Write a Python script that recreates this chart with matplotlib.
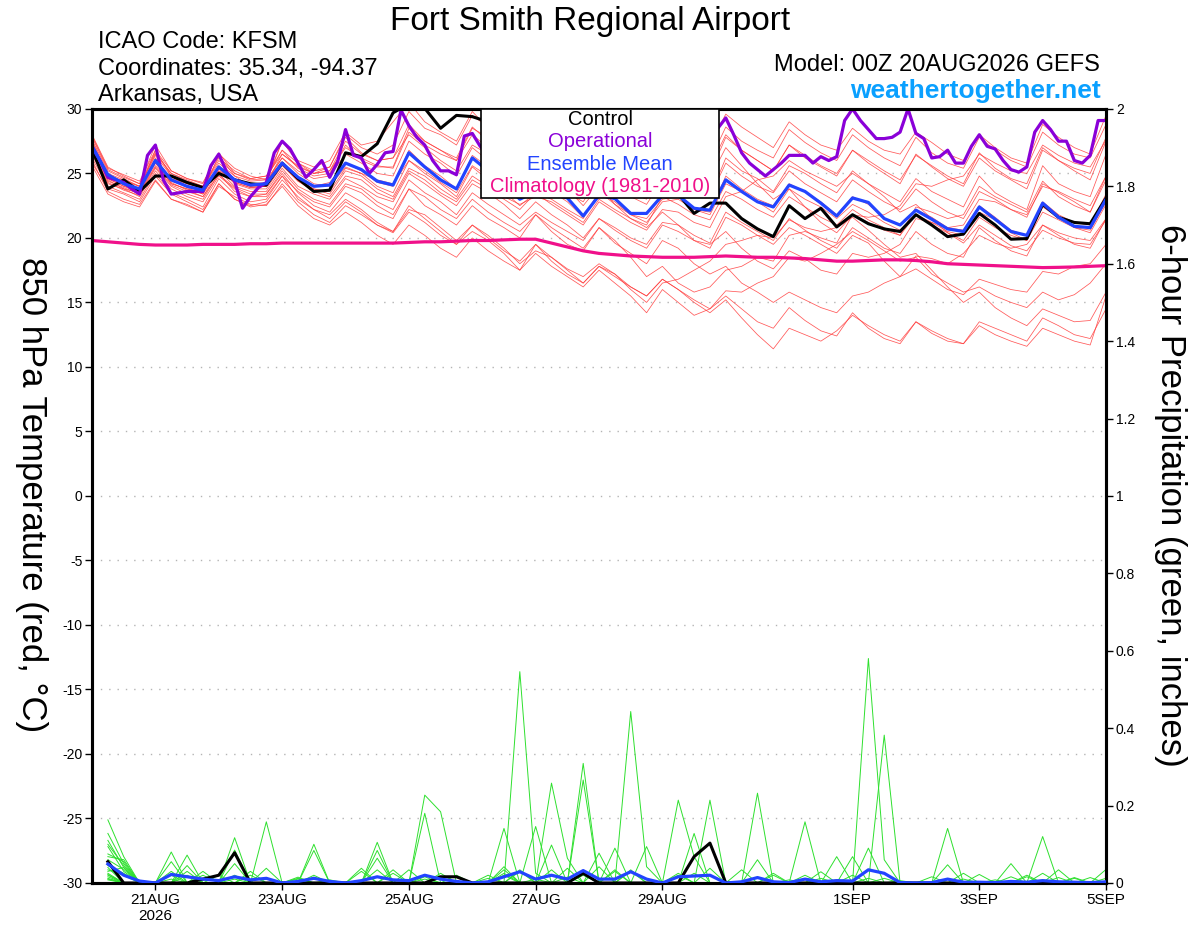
import numpy as np
import matplotlib.pyplot as plt
from matplotlib.patches import Rectangle
from matplotlib.ticker import FuncFormatter

plt.rcParams['font.family'] = ['Liberation Sans', 'DejaVu Sans']
plt.rcParams['axes.unicode_minus'] = False

# ---- time axes (GEFS 6-hourly, GFS operational 3-hourly) ----
t_start = np.datetime64('2026-08-20T00')
t_end = np.datetime64('2026-09-05T00')
times6 = np.arange(t_start, t_end + np.timedelta64(1, 'h'), np.timedelta64(6, 'h'))
times3 = np.arange(t_start, t_end + np.timedelta64(1, 'h'), np.timedelta64(3, 'h'))
times_pcp = times6[1:]

tick_dates = ['2026-08-21', '2026-08-23', '2026-08-25', '2026-08-27',
              '2026-08-29', '2026-09-01', '2026-09-03', '2026-09-05']
tick_labels = ['21AUG\n2026', '23AUG', '25AUG', '27AUG', '29AUG', '1SEP', '3SEP', '5SEP']

# ---- 850 hPa temperature (C) ----
control_t = [26.9,
             23.8, 24.5, 23.6, 24.8, 24.8, 24.3, 23.9, 25.0,
             24.5, 24.2, 24.1, 25.8, 24.6, 23.6, 23.7, 26.6,
             26.3, 27.3, 29.7, 30.4, 30.05, 28.5, 29.5, 29.4,
             29.0, 28.0, 27.0, 26.5, 26.0, 25.5, 25.0, 24.5,
             24.2, 24.0, 23.8, 23.6, 23.4, 21.9, 22.7, 22.7,
             21.5, 20.7, 20.1, 22.5, 21.5, 22.3, 20.85, 21.8,
             21.1, 20.7, 20.5, 21.8, 21.0, 20.1, 20.3, 21.9,
             21.0, 19.9, 19.95, 22.6, 21.6, 21.2, 21.1, 23.1]

mean_t = [27.1,
          24.9, 24.2, 23.8, 26.0, 24.5, 24.0, 23.7, 25.5,
          24.5, 24.1, 24.2, 25.8, 24.7, 24.0, 24.1, 25.8,
          25.3, 24.4, 24.1, 26.6, 25.5, 24.5, 23.8, 26.2,
          25.2, 24.2, 23.0, 23.6, 23.4, 23.1, 21.7, 23.3,
          23.05, 21.9, 21.9, 23.3, 23.3, 22.3, 22.15, 24.5,
          23.6, 22.8, 22.4, 24.1, 23.6, 22.7, 21.7, 23.1,
          22.75, 21.5, 21.0, 22.15, 21.45, 20.7, 20.5, 22.4,
          21.45, 20.5, 20.2, 22.7, 21.6, 20.9, 20.8, 23.0]

oper_t = [27.1, 26.0, 24.7, 24.5, 24.3, 23.8, 23.4, 26.4, 27.2, 24.5,
          23.4, 23.5, 23.6, 23.6, 23.6, 25.6, 26.5, 25.1, 24.4, 22.3,
          23.2, 23.9, 24.3, 26.6, 27.5, 26.9, 25.8, 24.7, 25.3, 26.0,
          24.7, 25.9, 28.4, 26.4, 26.2, 25.0, 25.7, 26.6, 26.7, 29.9,
          28.7, 27.8, 27.2, 26.0, 25.2, 25.2, 24.9, 27.9, 28.1, 27.1,
          26.5, 26.0, 25.5, 26.0, 27.0, 27.5, 26.8, 26.0, 25.5, 25.0,
          25.5, 26.5, 27.0, 26.5, 25.8, 25.2, 25.0, 25.5, 26.3, 26.8,
          26.2, 25.5, 25.0, 25.3, 26.0, 26.8, 27.5, 27.0, 27.8,
          28.5, 29.3, 28.0, 26.6, 25.8, 25.3, 24.8, 25.3,
          25.8, 26.4, 26.4, 26.4, 25.8, 26.3, 26.0, 26.3, 29.1, 30.0,
          29.1, 28.4, 27.7, 27.7, 27.8, 28.2, 30.0, 28.1, 27.7, 26.2,
          26.3, 26.8, 25.8, 25.8, 27.1, 28.0, 27.1, 26.9, 26.0, 25.3,
          25.1, 25.5, 28.2, 29.1, 28.4, 27.5, 27.5, 26.0, 25.8, 26.4, 29.1, 29.1]

clim_t = [19.8, 19.7, 19.6, 19.5, 19.45, 19.45, 19.45, 19.5, 19.5, 19.5,
          19.55, 19.55, 19.6, 19.6, 19.6, 19.6, 19.6, 19.6, 19.6, 19.6,
          19.65, 19.7, 19.7, 19.75, 19.8, 19.8, 19.85, 19.9, 19.9, 19.6,
          19.3, 19.0, 18.8, 18.7, 18.6, 18.55, 18.5, 18.5, 18.5, 18.55,
          18.6, 18.55, 18.5, 18.5, 18.45, 18.4, 18.3, 18.2, 18.2, 18.25,
          18.3, 18.3, 18.25, 18.15, 18.0, 17.95, 17.9, 17.85, 17.8, 17.75,
          17.7, 17.72, 17.75, 17.8, 17.85]

t_m01 = [27.5, 25.0, 24.5, 24.0, 26.5, 25.0, 24.5, 24.0, 26.0, 25.0, 24.6, 24.8, 26.8,
         25.8, 25.0, 25.2, 27.5, 26.5, 26.0, 26.2, 28.8, 27.5, 26.8, 26.0, 28.5,
         27.8, 27.0, 26.5, 28.9, 28.0, 27.2, 26.8, 29.5, 28.5, 27.5, 27.0, 29.2,
         28.2, 27.5, 27.2, 29.6, 28.6, 27.8, 27.0, 29.0, 28.0, 27.2, 26.8, 28.5,
         27.5, 26.8, 26.5, 28.2, 27.4, 26.5, 26.0, 28.0, 27.0, 26.2, 25.8, 28.8,
         27.8, 27.0, 26.5, 29.5]
t_m02 = [28.0, 25.5, 24.8, 24.2, 27.2, 25.2, 24.6, 24.3, 26.5, 25.4, 24.8, 24.5, 27.5,
         26.0, 25.5, 26.0, 28.2, 27.2, 27.5, 29.0, 30.5, 29.0, 28.2, 27.5, 29.8,
         28.5, 27.6, 27.0, 28.6, 27.5, 26.5, 25.8, 27.5, 26.8, 26.0, 25.5, 27.8,
         27.0, 26.2, 25.5, 28.0, 26.8, 26.0, 25.2, 27.2, 26.2, 25.5, 24.8, 26.8,
         25.8, 25.0, 24.2, 26.5, 25.5, 24.6, 24.0, 26.2, 25.2, 24.5, 23.8, 26.8,
         26.0, 25.2, 24.5, 27.5]
t_m03 = [26.8, 24.5, 23.8, 23.5, 25.8, 24.2, 23.8, 23.5, 25.5, 24.5, 24.0, 24.2, 26.5,
         25.5, 25.0, 25.5, 28.0, 27.0, 26.5, 27.2, 29.8, 28.5, 28.0, 27.2, 29.5,
         28.6, 27.2, 25.8, 26.5, 25.0, 23.8, 22.5, 24.0, 22.6, 21.5, 20.8, 22.0,
         21.0, 19.8, 19.5, 20.5, 19.2, 18.2, 17.6, 19.0, 18.4, 17.5, 17.2, 18.8,
         18.5, 18.8, 19.5, 21.5, 21.2, 20.8, 21.0, 23.0, 22.8, 22.2, 21.6, 24.2,
         23.5, 22.8, 22.0, 24.5]
t_m04 = [27.2, 24.8, 24.3, 23.8, 26.2, 24.5, 24.0, 23.6, 25.6, 24.4, 24.0, 24.0, 25.9,
         24.6, 24.0, 24.3, 25.8, 25.2, 24.3, 24.0, 26.8, 25.6, 24.8, 23.8, 26.4,
         25.5, 24.6, 23.2, 23.8, 23.6, 22.8, 21.6, 23.5, 22.8, 21.8, 21.5, 23.0,
         23.2, 22.2, 22.0, 24.8, 23.8, 23.0, 22.5, 24.2, 23.6, 22.8, 21.8, 23.2,
         22.6, 21.5, 21.0, 22.2, 21.6, 20.8, 20.6, 22.5, 21.6, 20.6, 20.2, 22.8,
         21.8, 21.2, 21.0, 23.4]
t_m05 = [26.5, 24.2, 23.8, 23.2, 25.2, 23.8, 23.2, 22.8, 24.8, 23.8, 23.2, 23.4, 25.0,
         23.5, 22.5, 22.0, 23.5, 22.8, 22.0, 21.5, 23.8, 22.5, 21.8, 21.0, 22.5,
         21.5, 20.8, 20.0, 21.8, 20.5, 19.5, 19.0, 20.8, 19.8, 18.5, 17.0, 17.8,
         16.5, 15.8, 16.2, 17.5, 17.8, 18.5, 18.2, 20.2, 20.5, 20.0, 19.6, 21.8,
         21.2, 20.6, 20.2, 22.4, 22.0, 21.5, 21.8, 24.0, 23.2, 22.6, 22.0, 24.4,
         23.2, 22.5, 22.0, 24.8]
t_m06 = [26.2, 24.0, 23.5, 23.0, 25.0, 23.5, 23.0, 22.4, 24.6, 23.4, 22.8, 23.0, 24.8,
         23.0, 22.2, 21.8, 23.0, 22.2, 21.2, 20.5, 22.5, 21.5, 20.5, 19.5, 21.0,
         20.0, 19.0, 18.2, 19.5, 18.5, 17.6, 17.0, 18.0, 17.2, 16.2, 15.5, 16.8,
         16.0, 15.0, 14.2, 15.2, 13.8, 12.5, 11.4, 13.0, 12.5, 12.0, 12.8, 14.0,
         13.2, 12.5, 12.0, 13.5, 12.8, 12.2, 11.8, 13.5, 13.0, 12.5, 12.0, 13.8,
         13.2, 12.5, 12.2, 14.5]
t_m07 = [26.0, 23.6, 23.0, 22.6, 24.5, 23.0, 22.5, 22.0, 24.2, 23.0, 22.4, 22.6, 24.0,
         22.5, 21.5, 21.0, 22.0, 21.2, 20.2, 19.5, 21.0, 20.2, 19.2, 18.5, 20.0,
         19.0, 18.2, 17.5, 18.8, 17.8, 17.0, 16.2, 17.5, 16.5, 15.5, 14.2, 16.0,
         15.0, 14.0, 14.5, 15.9, 15.8, 16.5, 17.0, 18.5, 18.2, 18.8, 19.5, 20.5,
         19.8, 19.0, 18.2, 18.5, 17.2, 16.5, 15.8, 16.2, 15.5, 15.0, 14.6, 15.8,
         15.2, 15.6, 16.5, 18.0]
t_m08 = [27.0, 24.6, 24.0, 23.5, 25.6, 24.3, 23.7, 23.2, 25.2, 24.0, 23.6, 23.6, 25.4,
         24.0, 23.4, 23.0, 24.6, 24.0, 23.2, 22.8, 25.0, 24.2, 23.3, 22.5, 24.2,
         23.5, 22.6, 21.5, 22.8, 21.8, 21.0, 20.0, 21.5, 20.8, 20.0, 19.5, 21.2,
         21.0, 20.2, 19.6, 22.0, 21.2, 20.5, 19.8, 21.5, 20.6, 19.8, 19.2, 20.8,
         20.0, 19.2, 18.8, 20.5, 19.5, 18.8, 18.5, 20.8, 19.8, 19.0, 18.6, 21.0,
         20.2, 19.5, 19.2, 21.5]
t_m09 = [27.6, 25.2, 24.6, 24.0, 26.4, 24.8, 24.2, 24.0, 25.8, 24.8, 24.4, 24.5, 26.2,
         25.2, 24.6, 24.8, 26.5, 25.8, 25.0, 24.8, 27.5, 26.5, 25.8, 24.8, 27.0,
         26.0, 25.2, 24.8, 26.2, 25.6, 25.0, 24.2, 26.0, 25.2, 24.5, 24.0, 26.5,
         25.8, 25.0, 24.6, 27.0, 25.6, 24.2, 23.0, 23.8, 22.4, 21.2, 20.4, 21.8,
         21.6, 21.8, 22.5, 24.2, 24.0, 24.5, 24.8, 26.5, 25.8, 25.2, 25.0, 27.2,
         26.4, 25.8, 25.5, 27.6]
t_m10 = [26.9, 24.9, 24.4, 24.0, 25.8, 24.6, 24.2, 23.8, 25.2, 24.6, 24.2, 24.3, 26.2,
         25.0, 24.2, 24.0, 25.5, 25.0, 24.5, 24.2, 26.0, 25.2, 24.3, 23.5, 25.6,
         24.8, 24.0, 23.5, 25.0, 24.2, 23.5, 22.8, 24.8, 24.0, 23.2, 22.6, 24.5,
         24.5, 23.8, 23.2, 25.8, 24.8, 24.0, 23.5, 25.2, 24.2, 23.5, 22.8, 24.5,
         23.6, 22.8, 22.2, 23.8, 22.8, 22.0, 21.5, 23.6, 23.0, 22.2, 21.8, 24.0,
         23.6, 23.0, 22.5, 24.8]
t_m11 = [27.3, 24.7, 24.1, 23.6, 26.0, 24.2, 23.8, 23.4, 25.4, 24.2, 23.8, 23.8, 25.6,
         24.4, 23.6, 23.2, 24.8, 24.5, 23.5, 23.0, 25.2, 24.5, 23.5, 22.8, 24.5,
         23.8, 23.0, 22.2, 23.5, 22.6, 21.8, 21.0, 22.8, 22.0, 21.2, 20.6, 22.2,
         22.0, 21.2, 20.8, 23.2, 23.6, 24.5, 24.8, 26.0, 25.2, 24.6, 24.0, 25.0,
         24.2, 23.2, 22.0, 22.6, 21.5, 20.4, 19.6, 21.0, 20.2, 19.4, 19.0, 20.6,
         20.0, 19.6, 19.5, 21.4]
t_m12 = [26.4, 24.3, 23.7, 23.3, 25.4, 24.0, 23.4, 23.0, 25.0, 23.6, 23.2, 23.2, 24.8,
         23.6, 22.8, 22.4, 24.0, 23.5, 22.5, 21.8, 23.8, 23.2, 22.2, 21.5, 23.0,
         22.0, 21.2, 20.5, 21.8, 20.8, 20.0, 19.2, 20.8, 19.6, 18.8, 18.0, 19.8,
         19.2, 18.0, 17.2, 17.8, 16.5, 15.8, 15.0, 15.8, 15.2, 14.6, 14.2, 15.5,
         15.8, 16.5, 17.0, 18.6, 18.4, 18.0, 18.8, 20.2, 19.6, 19.2, 19.5, 21.0,
         20.4, 20.0, 19.8, 21.5]
t_m13 = [27.8, 25.3, 24.7, 24.2, 26.6, 25.0, 24.4, 24.0, 26.2, 25.2, 24.6, 24.8, 26.5,
         25.6, 25.0, 25.2, 27.0, 26.2, 25.6, 25.4, 28.2, 27.2, 26.5, 26.0, 28.0,
         27.0, 26.2, 25.5, 27.0, 26.2, 25.5, 25.0, 27.2, 26.2, 25.4, 24.8, 27.0,
         26.4, 25.6, 25.0, 27.8, 26.8, 26.0, 25.2, 27.2, 26.4, 25.6, 25.0, 26.8,
         26.0, 25.2, 24.5, 26.4, 25.6, 24.8, 24.2, 26.6, 25.4, 24.6, 24.2, 27.0,
         26.0, 25.4, 25.0, 27.8]
t_m14 = [27.0, 25.0, 24.2, 23.8, 25.9, 24.4, 24.0, 23.5, 25.4, 24.3, 23.9, 24.0, 25.8,
         24.5, 23.8, 23.6, 25.4, 25.0, 24.0, 23.5, 26.0, 25.0, 24.2, 23.2, 25.5,
         24.5, 23.6, 22.5, 23.5, 23.0, 22.2, 21.5, 23.6, 22.6, 21.8, 21.2, 22.8,
         23.0, 22.2, 21.8, 24.2, 23.6, 22.8, 22.0, 23.8, 23.0, 22.4, 21.5, 22.6,
         22.0, 21.2, 20.6, 21.8, 21.2, 20.5, 20.2, 22.0, 21.4, 20.4, 19.8, 22.4,
         21.6, 20.8, 20.6, 22.8]
t_m15 = [25.8, 23.8, 23.4, 22.8, 24.8, 23.4, 22.8, 22.2, 24.2, 23.0, 22.5, 22.8, 24.5,
         23.2, 22.2, 21.5, 22.8, 22.0, 21.0, 20.5, 22.2, 21.8, 20.8, 19.8, 21.0,
         20.2, 19.2, 18.0, 19.0, 18.5, 17.5, 16.5, 17.8, 17.2, 16.0, 15.0, 16.5,
         16.8, 17.5, 18.2, 19.5, 19.8, 20.2, 20.0, 21.4, 20.8, 20.5, 20.8, 21.6,
         20.6, 19.5, 18.5, 18.8, 17.5, 16.2, 15.0, 15.8, 14.6, 13.8, 13.2, 14.5,
         14.0, 13.5, 13.6, 15.8]
t_m16 = [27.4, 24.6, 24.0, 23.8, 26.8, 24.8, 24.0, 23.6, 26.4, 24.8, 24.0, 24.3, 27.5,
         25.8, 25.2, 25.5, 27.8, 26.6, 26.0, 26.2, 28.0, 27.0, 26.0, 25.2, 27.2,
         26.5, 25.4, 24.5, 25.5, 24.8, 24.0, 23.4, 25.4, 24.2, 23.5, 23.0, 25.8,
         24.6, 23.8, 23.2, 26.2, 25.2, 24.6, 23.6, 25.6, 25.0, 24.2, 23.5, 25.2,
         24.2, 23.5, 22.8, 24.6, 23.6, 23.0, 22.4, 24.8, 23.5, 22.8, 22.2, 25.6,
         24.2, 23.6, 23.2, 26.5]
t_m17 = [26.6, 24.4, 23.9, 23.4, 25.5, 24.1, 23.6, 23.2, 24.9, 23.9, 23.4, 23.4, 25.2,
         23.8, 23.0, 22.6, 24.2, 23.8, 22.8, 22.2, 24.5, 23.5, 22.8, 21.8, 23.5,
         22.6, 21.8, 21.0, 22.0, 21.2, 20.5, 19.8, 21.5, 20.6, 19.8, 19.2, 21.0,
         20.5, 19.8, 19.2, 21.6, 21.0, 20.2, 19.5, 20.8, 20.2, 19.5, 18.8, 20.2,
         19.6, 18.2, 17.0, 17.6, 16.8, 16.0, 15.6, 16.8, 16.4, 16.0, 15.8, 17.4,
         17.2, 17.8, 18.0, 19.5]
t_m18 = [27.9, 25.4, 24.9, 24.4, 26.8, 25.2, 24.6, 24.2, 26.6, 25.0, 24.5, 24.6, 26.8,
         25.4, 24.8, 25.0, 27.2, 26.0, 25.5, 25.5, 28.5, 27.5, 26.8, 26.2, 28.6,
         27.5, 26.8, 26.0, 27.6, 26.8, 26.2, 25.6, 27.8, 27.0, 26.2, 25.6, 28.2,
         27.2, 26.5, 26.0, 28.6, 27.5, 26.8, 26.2, 28.4, 27.4, 26.6, 26.0, 28.0,
         27.0, 26.2, 25.6, 27.8, 26.6, 25.8, 25.4, 27.8, 26.8, 26.0, 25.5, 28.2,
         27.2, 26.5, 26.2, 28.8]
t_m19 = [27.1, 24.8, 24.2, 23.8, 26.1, 24.6, 23.9, 23.4, 25.5, 24.3, 23.9, 24.0, 25.7,
         24.4, 23.8, 23.4, 25.2, 24.8, 23.8, 23.2, 25.4, 24.8, 23.8, 23.0, 24.8,
         24.0, 23.2, 22.6, 23.2, 22.8, 22.0, 21.2, 23.0, 22.2, 21.5, 21.0, 23.2,
         22.6, 21.8, 21.4, 23.6, 23.0, 22.2, 21.6, 23.2, 22.4, 21.6, 21.0, 22.2,
         21.4, 20.8, 20.2, 21.8, 21.0, 20.4, 19.8, 21.6, 20.8, 20.2, 19.8, 22.0,
         21.4, 20.8, 20.4, 22.6]
t_m20 = [25.6, 23.4, 22.8, 22.4, 24.4, 23.0, 22.6, 22.0, 24.0, 23.2, 22.6, 22.5, 24.2,
         22.8, 21.8, 21.2, 22.5, 21.8, 21.0, 20.4, 22.0, 21.2, 20.2, 19.5, 20.5,
         19.8, 18.8, 17.5, 19.5, 18.2, 17.2, 16.5, 17.8, 17.0, 16.2, 15.5, 16.8,
         16.0, 15.2, 14.5, 15.5, 14.5, 13.5, 13.0, 14.6, 13.6, 12.8, 12.4, 14.2,
         13.0, 12.2, 11.8, 13.5, 12.6, 12.0, 11.8, 13.2, 12.5, 12.0, 11.6, 13.0,
         12.5, 12.0, 11.7, 15.5]

# ---- 6-hour precipitation (inches), valid 06Z 20 Aug onward ----
control_p = [.055, 0, 0, 0, 0, 0, .01, .02, .078, 0, 0, 0, 0, 0, 0, 0,
             0, 0, 0, 0, 0, .016, .016, 0, 0, 0, 0, 0, 0, 0, .025, 0,
             0, 0, 0, 0, 0, .068, .103, 0, 0, 0, 0, 0, 0, 0, 0, 0,
             0, 0, 0, 0, 0, 0, 0, 0, 0, 0, 0, 0, 0, 0, 0, 0]
mean_p = [.049, .02, .005, 0, .022, .016, .01, .006, .016, .008, .012, 0, .004, .012, .004, 0,
          .006, .016, .008, .006, .02, .01, .004, 0, .003, .016, .029, .01, .02, .01, .032, .01,
          .01, .029, .01, 0, .016, .018, .02, 0, .003, .014, .003, .001, .01, .003, .006, .005,
          .034, .025, .001, 0, .001, .01, .002, .002, .001, .004, .002, .006, .003, .002, .001, .003]

p_m01 = [.163, .068, 0, 0, 0, 0, 0, 0, .117, 0, 0, 0, 0, 0, 0, 0,
         0, 0, 0, 0, .227, .184, 0, 0, 0, 0, .546, .025, 0, 0, 0, 0,
         0, 0, 0, 0, 0, 0, 0, 0, 0, 0, 0, 0, 0, 0, 0, 0,
         .58, .06, 0, 0, 0, 0, 0, 0, 0, 0, 0, 0, 0, 0, 0, 0]
p_m02 = [.128, .05, 0, 0, .08, 0, 0, 0, 0, 0, .158, 0, 0, 0, 0, 0,
         0, 0, 0, 0, 0, 0, 0, 0, 0, .141, 0, 0, 0, 0, .309, 0,
         0, .443, .042, 0, 0, 0, 0, 0, 0, 0, 0, 0, 0, 0, 0, 0,
         0, .382, 0, 0, 0, 0, 0, 0, 0, 0, 0, 0, 0, 0, 0, 0]
p_m03 = [.094, .03, 0, 0, 0, .072, 0, 0, 0, 0, 0, 0, 0, .10, 0, 0,
         0, 0, 0, 0, 0, 0, 0, 0, 0, 0, 0, 0, .258, .064, 0, 0,
         0, 0, 0, 0, .214, .068, 0, 0, 0, 0, 0, 0, 0, 0, 0, 0,
         0, 0, 0, 0, 0, 0, 0, 0, 0, 0, 0, 0, 0, 0, 0, 0]
p_m04 = [.068, .06, 0, 0, .055, 0, 0, 0, .085, 0, 0, 0, 0, 0, 0, 0,
         0, .105, 0, 0, 0, 0, 0, 0, 0, 0, 0, 0, 0, 0, .266, 0,
         0, 0, 0, 0, 0, 0, 0, 0, 0, .232, 0, 0, .158, 0, 0, 0,
         0, 0, 0, 0, 0, 0, 0, 0, 0, 0, 0, 0, 0, 0, 0, 0]
p_m05 = [.05, 0, 0, 0, .03, 0, 0, 0, 0, 0, 0, 0, 0, .084, 0, 0,
         0, .084, 0, 0, .18, 0, 0, 0, 0, 0, 0, .146, 0, 0, 0, 0,
         0, 0, 0, 0, 0, 0, .214, 0, 0, 0, 0, 0, 0, 0, 0, 0,
         0, 0, 0, 0, 0, 0, 0, 0, 0, 0, 0, 0, 0, 0, 0, 0]
p_m06 = [.04, 0, 0, 0, 0, .045, 0, 0, .05, 0, 0, 0, 0, 0, 0, 0,
         0, .064, 0, 0, 0, 0, 0, 0, 0, .042, 0, 0, .098, 0, 0, 0,
         .09, 0, 0, 0, 0, 0, 0, 0, 0, 0, 0, 0, 0, 0, 0, 0,
         .09, 0, 0, 0, 0, 0, 0, 0, 0, 0, 0, .12, 0, 0, 0, 0]
p_m07 = [.034, .02, 0, 0, 0, 0, 0, 0, 0, 0, 0, 0, 0, 0, 0, 0,
         .038, 0, 0, 0, 0, .025, 0, 0, 0, 0, 0, 0, 0, 0, 0, .077,
         0, 0, 0, 0, 0, .128, 0, 0, 0, 0, 0, 0, 0, 0, 0, 0,
         0, 0, 0, 0, 0, .141, 0, 0, 0, .05, 0, 0, 0, 0, 0, 0]
p_m08 = [.016, 0, 0, 0, 0, 0, .03, 0, 0, 0, .038, 0, 0, 0, 0, 0,
         0, 0, .034, 0, 0, 0, 0, 0, 0, .034, 0, 0, 0, 0, 0, 0,
         0, 0, .094, 0, 0, 0, 0, 0, 0, 0, 0, 0, .02, 0, .068, 0,
         0, 0, 0, 0, 0, 0, 0, 0, 0, 0, 0, 0, 0, 0, 0, .035]
p_m09 = [.01, 0, 0, 0, 0, .03, 0, 0, 0, .03, 0, 0, 0, 0, 0, 0,
         0, 0, 0, .034, 0, 0, 0, 0, 0, 0, .034, 0, 0, .038, 0, 0,
         0, 0, 0, 0, 0, 0, 0, 0, 0, .06, 0, 0, 0, 0, 0, .068,
         0, 0, 0, 0, 0, 0, 0, 0, 0, 0, 0, 0, .034, 0, 0, 0]
p_m10 = [.02, 0, 0, 0, .02, 0, 0, .02, 0, 0, 0, 0, .012, 0, 0, 0,
         0, .034, 0, 0, 0, 0, 0, 0, 0, 0, 0, 0, 0, 0, 0, 0,
         .034, 0, 0, 0, 0, 0, .038, 0, 0, 0, 0, 0, 0, 0, 0, 0,
         0, 0, 0, 0, 0, .047, 0, 0, 0, 0, 0, 0, 0, 0, 0, 0]
p_m11 = [.03, .04, 0, 0, 0, 0, 0, 0, 0, .02, 0, 0, 0, .02, 0, 0,
         0, 0, 0, 0, 0, 0, .02, 0, 0, .025, 0, 0, 0, 0, 0, 0,
         0, .034, 0, 0, 0, 0, 0, 0, 0, 0, .025, 0, 0, 0, 0, 0,
         0, 0, 0, 0, 0, 0, 0, 0, 0, .016, 0, 0, 0, 0, 0, 0]
p_m12 = [.025, 0, 0, 0, 0, 0, .02, 0, 0, 0, 0, 0, 0, 0, 0, 0,
         .03, 0, 0, 0, 0, 0, 0, 0, .02, 0, 0, 0, 0, 0, 0, .042,
         0, 0, 0, 0, 0, 0, 0, 0, .034, 0, 0, 0, 0, 0, 0, .02,
         0, 0, 0, 0, 0, 0, .025, 0, 0, 0, 0, .025, 0, 0, 0, 0]
p_m13 = [.012, 0, 0, 0, 0, 0, 0, 0, .02, 0, 0, 0, .015, 0, 0, 0,
         0, 0, .025, 0, 0, 0, 0, 0, 0, 0, 0, 0, .034, 0, 0, 0,
         0, 0, 0, 0, .025, 0, 0, 0, 0, 0, 0, 0, 0, .029, 0, 0,
         0, 0, 0, 0, 0, 0, 0, .022, 0, 0, 0, 0, 0, .014, 0, 0]
p_m14 = [.045, .025, 0, 0, 0, 0, 0, 0, 0, 0, 0, 0, 0, .015, 0, 0,
         0, 0, 0, 0, .016, 0, 0, 0, 0, 0, .03, 0, 0, 0, 0, 0,
         .03, 0, 0, 0, 0, 0, 0, 0, 0, 0, .02, 0, 0, 0, 0, 0,
         .012, 0, 0, 0, 0, 0, 0, 0, 0, 0, .02, 0, 0, 0, 0, 0]
p_m15 = [.022, 0, 0, 0, 0, 0, 0, 0, 0, 0, 0, 0, 0, 0, .008, 0,
         0, 0, 0, 0, 0, 0, 0, 0, .012, 0, 0, 0, 0, 0, .02, 0,
         0, 0, 0, 0, 0, .025, 0, 0, 0, 0, 0, 0, 0, .012, 0, 0,
         0, 0, 0, 0, .016, 0, 0, 0, 0, 0, 0, 0, 0, 0, .014, 0]
p_m16 = [.06, .035, 0, 0, 0, .02, 0, 0, 0, 0, 0, 0, 0, 0, 0, 0,
         0, 0, 0, 0, 0, 0, 0, 0, 0, 0, 0, .01, 0, 0, 0, 0,
         0, .03, 0, 0, 0, 0, 0, 0, 0, 0, 0, .008, 0, 0, 0, 0,
         0, .012, 0, 0, 0, 0, 0, 0, 0, 0, .016, 0, 0, 0, 0, .012]
p_m17 = [.008, 0, 0, 0, 0, 0, 0, 0, 0, 0, 0, 0, 0, 0, 0, 0,
         0, 0, 0, 0, 0, 0, 0, 0, 0, 0, 0, 0, 0, 0, 0, 0,
         0, 0, 0, 0, .02, 0, 0, 0, 0, 0, 0, 0, 0, 0, .008, 0,
         0, 0, 0, 0, 0, 0, 0, 0, .008, 0, 0, 0, 0, .012, 0, 0]
p_m18 = [.10, .045, 0, 0, .01, 0, 0, 0, 0, 0, 0, 0, 0, 0, 0, 0,
         0, 0, 0, 0, 0, 0, 0, 0, 0, .02, 0, 0, 0, 0, 0, 0,
         0, 0, 0, 0, 0, 0, 0, 0, 0, 0, 0, 0, 0, 0, 0, 0,
         0, 0, .006, 0, 0, 0, 0, 0, 0, 0, 0, 0, .014, 0, 0, 0]
p_m19 = [.075, .055, 0, 0, 0, 0, 0, 0, .01, 0, 0, 0, 0, 0, 0, 0,
         0, 0, 0, 0, 0, 0, 0, 0, 0, 0, 0, 0, 0, .015, 0, 0,
         0, 0, 0, 0, 0, 0, 0, 0, 0, 0, 0, 0, 0, 0, 0, 0,
         0, 0, 0, 0, 0, 0, .01, 0, 0, 0, 0, 0, 0, 0, 0, 0]
p_m20 = [.11, .04, 0, 0, 0, 0, 0, 0, 0, 0, 0, 0, .01, 0, 0, 0,
         0, 0, 0, 0, .01, 0, 0, 0, 0, 0, 0, 0, 0, 0, 0, 0,
         0, 0, 0, 0, 0, 0, 0, 0, 0, 0, 0, 0, 0, 0, 0, 0,
         0, 0, 0, 0, 0, 0, 0, 0, 0, 0, 0, .008, 0, 0, 0, 0]

members_t = [t_m01, t_m02, t_m03, t_m04, t_m05, t_m06, t_m07, t_m08, t_m09, t_m10,
             t_m11, t_m12, t_m13, t_m14, t_m15, t_m16, t_m17, t_m18, t_m19, t_m20]
members_p = [p_m01, p_m02, p_m03, p_m04, p_m05, p_m06, p_m07, p_m08, p_m09, p_m10,
             p_m11, p_m12, p_m13, p_m14, p_m15, p_m16, p_m17, p_m18, p_m19, p_m20]

RED = '#ff3b3b'
GREEN = '#2ee02e'
PURPLE = '#8a00d8'
BLUE = '#2244ff'
MAGENTA = '#f0108a'

fig = plt.figure(figsize=(12, 9.27), dpi=100)
ax = fig.add_axes([0.0767, 0.0475, 0.845, 0.835])

for m in members_t:
    ax.plot(times6, m, color=RED, lw=0.55, alpha=0.85, zorder=2)
ax.plot(times6, clim_t, color=MAGENTA, lw=2.3, zorder=3)
ax.plot(times6, control_t, color='black', lw=2.2, zorder=4)
ax.plot(times3, oper_t, color=PURPLE, lw=2.3, zorder=5)
ax.plot(times6, mean_t, color=BLUE, lw=2.3, zorder=6)

ax.set_xlim(t_start, t_end)
ax.set_ylim(-30, 30)
ax.set_yticks(np.arange(-30, 31, 5))
ax.grid(axis='y', color='#b4b4b4', linestyle=(0, (1, 5)), lw=1)
ax.set_xticks([np.datetime64(d) for d in tick_dates])
ax.set_xticklabels(tick_labels)
ax.tick_params(axis='x', labelsize=11, length=5, width=1, pad=2)
ax.tick_params(axis='y', labelsize=10, length=5, width=1, pad=2)
for s in ax.spines.values():
    s.set_linewidth(2.2)

ax2 = ax.twinx()
for m in members_p:
    ax2.plot(times_pcp, m, color=GREEN, lw=0.7, zorder=2)
ax2.plot(times_pcp, control_p, color='black', lw=2.2, zorder=4)
ax2.plot(times_pcp, mean_p, color=BLUE, lw=2.3, zorder=5)
ax2.set_ylim(0, 2)
ax2.set_yticks(np.arange(0, 2.01, 0.2))
ax2.yaxis.set_major_formatter(FuncFormatter(lambda v, p: '%g' % round(v, 1)))
ax2.tick_params(axis='y', labelsize=10, length=5, width=1, pad=2)
for s in ax2.spines.values():
    s.set_linewidth(2.2)

# legend box (coloured text only)
ax2.add_patch(Rectangle((0.3836, 0.885), 0.2347, 0.115, transform=ax2.transAxes,
                        facecolor='white', edgecolor='black', lw=1.2, zorder=10))
leg_items = [('Control', 'black'), ('Operational', PURPLE),
             ('Ensemble Mean', BLUE), ('Climatology (1981-2010)', MAGENTA)]
for k, (txt, col) in enumerate(leg_items):
    ax2.text(0.501, 0.9858 - k * 0.0285, txt, color=col, fontsize=14.5,
             ha='center', va='center', transform=ax2.transAxes, zorder=11)

fig.text(0.4917, 0.977, 'Fort Smith Regional Airport', fontsize=24, ha='center', va='center')
fig.text(0.0817, 0.955, 'ICAO Code: KFSM', fontsize=17, ha='left', va='center')
fig.text(0.0817, 0.926, 'Coordinates: 35.34, -94.37', fontsize=17, ha='left', va='center')
fig.text(0.0817, 0.898, 'Arkansas, USA', fontsize=17, ha='left', va='center')
fig.text(0.9167, 0.930, 'Model: 00Z 20AUG2026 GEFS', fontsize=17, ha='right', va='center')
fig.text(0.9175, 0.902, 'weathertogether.net', fontsize=19, fontweight='bold',
         color='#0aa0ff', ha='right', va='center')
fig.text(0.026, 0.466, '850 hPa Temperature (red, \u00b0C)', fontsize=25,
         rotation=-90, ha='center', va='center')
fig.text(0.975, 0.466, '6-hour Precipitation (green, inches)', fontsize=25,
         rotation=-90, ha='center', va='center')

fig.savefig('out.png', dpi=100)
